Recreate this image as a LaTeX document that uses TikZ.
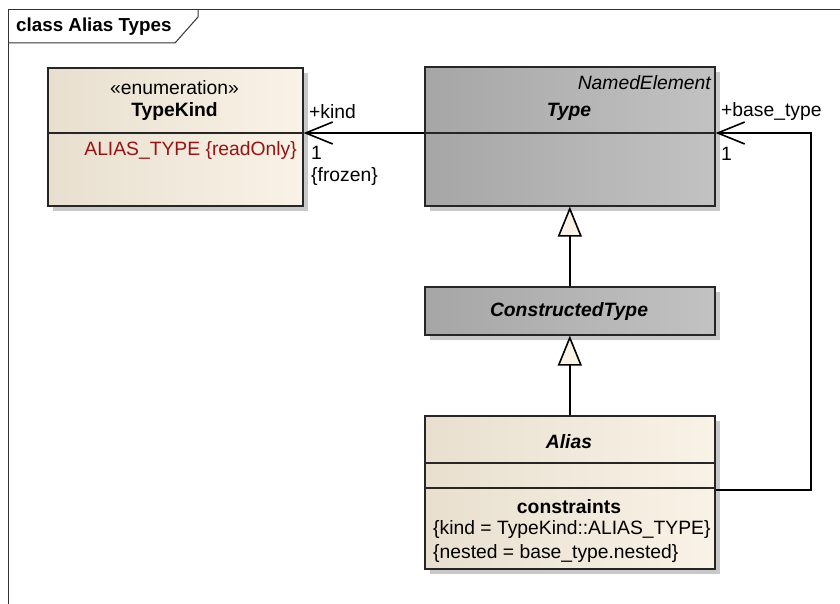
\documentclass[tikz,border=0pt]{standalone}
\usepackage{fontspec}
\setmainfont{Liberation Sans}
\usetikzlibrary{arrows.meta,shadows,calc}
\definecolor{creamL}{RGB}{232,223,207}
\definecolor{creamR}{RGB}{249,242,230}
\definecolor{greyL}{RGB}{166,166,166}
\definecolor{greyR}{RGB}{194,194,194}
\definecolor{shadowc}{RGB}{200,200,200}
\definecolor{tipfill}{RGB}{250,242,230}
\definecolor{attrred}{RGB}{150,20,20}
\newcommand{\fsz}{\fontsize{19.3}{23}\selectfont}
\tikzset{
  umlbox/.style={draw=black!85, line width=1.6pt, rectangle, anchor=north west, inner sep=0pt,
    drop shadow={shadow xshift=5pt, shadow yshift=-5pt, fill=shadowc, opacity=1}},
  creambox/.style={umlbox, left color=creamL, right color=creamR},
  greybox/.style={umlbox, left color=greyL, right color=greyR},
  txt/.style={inner sep=0pt, font=\fsz},
  divider/.style={draw=black!85, line width=1.6pt},
  assoc/.style={line width=1.6pt, -{Straight Barb[length=27pt,width=22pt,line width=1.6pt]}},
  gen/.style={line width=1.6pt, -{Triangle[length=30pt,width=24pt,fill=tipfill,line width=1.6pt]}},
  frameline/.style={line width=1pt, draw=black!80}
}
\begin{document}
\begin{tikzpicture}[x=1pt,y=-1pt]
\useasboundingbox (0,0) rectangle (840,604);
\fill[white] (0,0) rectangle (840,604);
% frame
\draw[frameline] (8,604) -- (8,10) -- (840,10);
\draw[frameline] (8,43) -- (175,43) -- (198,17) -- (198,10);
\node[txt, anchor=west, font=\fontsize{18.8}{22}\selectfont\bfseries] (title) at (16,27) {class Alias Types};
% boxes
\node[creambox, minimum width=255pt, minimum height=138pt] (tk) at (47,67) {};
\node[greybox, minimum width=290pt, minimum height=139pt] (ty) at (424,66) {};
\node[greybox, minimum width=290pt, minimum height=48pt] (ct) at (424,286) {};
\node[creambox, minimum width=290pt, minimum height=153pt] (al) at (424,415) {};
% dividers
\draw[divider] (tk.west |- 0,133) -- (tk.east |- 0,133);
\draw[divider] (ty.west |- 0,133) -- (ty.east |- 0,133);
\draw[divider] (al.west |- 0,463) -- (al.east |- 0,463);
\draw[divider] (al.west |- 0,488) -- (al.east |- 0,488);
% texts TypeKind
\node[txt] (tkst) at (174.5,88) {«enumeration»};
\node[txt, font=\fsz\bfseries] (tkname) at (174.5,112) {TypeKind};
\node[txt, anchor=east, text=attrred] (tkattr) at (297,151) {ALIAS\_TYPE \{readOnly\}};
% Type
\node[txt, anchor=east, font=\fsz\itshape] (tyst) at (711,83) {NamedElement};
\node[txt, font=\fsz\bfseries\itshape] (tyname) at (569,112) {Type};
% ConstructedType
\node[txt, font=\fsz\bfseries\itshape] (ctname) at (569,312) {ConstructedType};
% Alias
\node[txt, font=\fsz\bfseries\itshape] (alname) at (569,442) {Alias};
\node[txt, font=\fsz\bfseries] (alc) at (569,507) {constraints};
\node[txt, anchor=west] (alc1) at (433,530) {\{kind = TypeKind::ALIAS\_TYPE\}};
\node[txt, anchor=west] (alc2) at (433,554) {\{nested = base\_type.nested\}};
% connectors
\draw[assoc] (ty.west |- 0,133) -- (tk.east |- 0,133);
\coordinate (bend) at (811,133);
\draw[assoc] (al.east |- 0,490) -| (bend) -- (ty.east |- 0,133);
\draw[gen] (ct.north) -- (ty.south);
\draw[gen] (al.north) -- (ct.south);
% association labels
\node[txt, anchor=west] (kindl) at (309,112) {+kind};
\node[txt, anchor=west] (kindm) at (311,153) {1};
\node[txt, anchor=west] (kindf) at (311,177) {\{frozen\}};
\node[txt, anchor=west] (basel) at (721,112) {+base\_type};
\node[txt, anchor=west] (basem) at (721,154) {1};
\end{tikzpicture}
\end{document}
